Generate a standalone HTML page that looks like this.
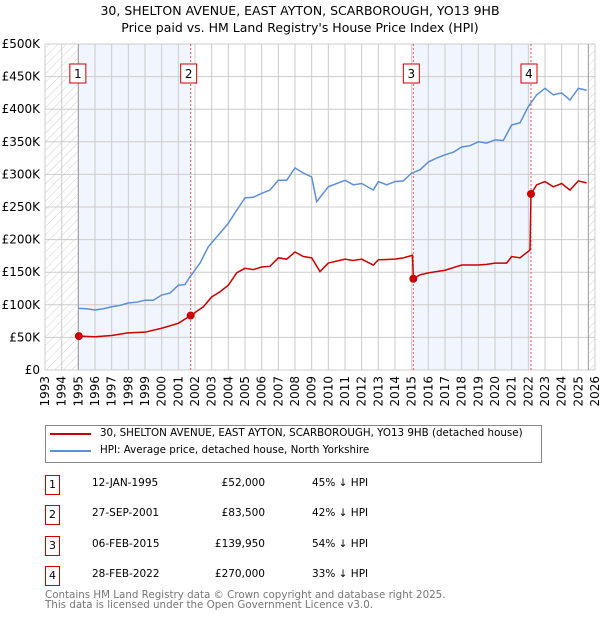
<!DOCTYPE html>
<html><head><meta charset="utf-8"><style>
body{margin:0;background:#fff;font-family:"DejaVu Sans","Liberation Sans",sans-serif;}
#wrap{position:relative;width:600px;height:620px;overflow:hidden;}
.t{position:absolute;white-space:nowrap;color:#000;font-size:12px;}
.box{position:absolute;width:13px;height:18px;border:1px solid #c00;font-size:11px;text-align:center;line-height:18px;}
</style></head><body>
<div id="wrap">
<div class="t" style="left:0;width:600px;text-align:center;top:3px;font-size:12.5px">30, SHELTON AVENUE, EAST AYTON, SCARBOROUGH, YO13 9HB</div>
<div class="t" style="left:0;width:600px;text-align:center;top:20px;font-size:12.5px">Price paid vs. HM Land Registry's House Price Index (HPI)</div>
<svg id="svg" width="600" height="420" style="position:absolute;left:0;top:0">
<defs><pattern id="hatch" width="6" height="6" patternUnits="userSpaceOnUse" patternTransform="rotate(45)"><line x1="0" y1="0" x2="0" y2="6" stroke="#bbb" stroke-width="0.7"/></pattern></defs>
<g id="g"></g></svg>
<div style="position:absolute;left:45px;top:425px;width:495px;height:36px;border:1px solid #888;"></div>
<div style="position:absolute;left:50px;top:433px;width:41px;height:2px;background:#c00"></div>
<div class="t" style="left:100px;top:427px;font-size:10.3px">30, SHELTON AVENUE, EAST AYTON, SCARBOROUGH, YO13 9HB (detached house)</div>
<div style="position:absolute;left:50px;top:450px;width:41px;height:2px;background:#5b8fd6"></div>
<div class="t" style="left:100px;top:444px;font-size:10.3px">HPI: Average price, detached house, North Yorkshire</div>
<div id="rows"></div>
<div class="t" style="left:45px;top:590px;font-size:10.3px;color:#777;line-height:10px">Contains HM Land Registry data © Crown copyright and database right 2025.<br>This data is licensed under the Open Government Licence v3.0.</div>
</div>
<script>
const yTicks=[0,50,100,150,200,250,300,350,400,450,500];
const years=[1993,1994,1995,1996,1997,1998,1999,2000,2001,2002,2003,2004,2005,2006,2007,2008,2009,2010,2011,2012,2013,2014,2015,2016,2017,2018,2019,2020,2021,2022,2023,2024,2025,2026];
const hpiX=[1995.0,1995.5,1996,1996.5,1997,1997.5,1998,1998.5,1999,1999.5,2000,2000.5,2001,2001.4,2001.7,2002.3,2002.8,2003.5,2004,2004.5,2005,2005.5,2006,2006.5,2007,2007.5,2008,2008.5,2009,2009.3,2009.6,2010,2011,2011.5,2012,2012.7,2013,2013.5,2014,2014.5,2015,2015.5,2016,2016.5,2017,2017.5,2018,2018.5,2019,2019.5,2020,2020.5,2021,2021.5,2022,2022.5,2023,2023.5,2024,2024.5,2025,2025.5];
const hpiY=[94.6,94,92,94,97,99,102.8,104,107,107,115,118,130,131,143,164,189,210,225,245,264,265,271,276,291,291,310,302,296,258,268,281,291,284,286,276,289,284,289,290,302,307,319,325,330,334,342,344,350,348,353,352,376,379,404,422,432,422,425,414,432,429];
const ppX=[1995.03,1996,1997,1998,1999,2000,2001,2001.74,2002.5,2003,2003.5,2004,2004.5,2005,2005.5,2006,2006.5,2007,2007.5,2008,2008.5,2009,2009.5,2010,2011,2011.5,2012,2012.7,2013,2014,2014.5,2015.05,2015.1,2015.5,2016,2017,2018,2019,2019.5,2020,2020.7,2021,2021.5,2022.1,2022.16,2022.5,2023,2023.5,2024,2024.5,2025,2025.5];
const ppY=[52,51,53,57,58,64,71.6,83.5,97,112,120,130,149,156,154,158,159,172,170,181,174,172,151,164,170,168,170,161,169,170,172,176,139.95,146,149,153,161,161,162,164,164,174,172,184,270,284,289,281,286,276,290,287];
const saleX=[1995.03,2001.74,2015.1,2022.16];
const saleY=[52,83.5,139.95,270];
const saleLabels=["1","2","3","4"];
const saleDates=["12-JAN-1995","27-SEP-2001","06-FEB-2015","28-FEB-2022"];
const salePrices=["£52,000","£83,500","£139,950","£270,000"];
const saleHpi=["45% ↓ HPI","42% ↓ HPI","54% ↓ HPI","33% ↓ HPI"];
const X0=45,X1=595,Y0=370,Y1=44;
const sx=v=>X0+(v-1993)/33*(X1-X0);
const sy=v=>Y0-v/500*(Y0-Y1);
const g=document.getElementById('g');const NS='http://www.w3.org/2000/svg';
function mk(t,a){const e=document.createElementNS(NS,t);for(const k in a)e.setAttribute(k,a[k]);g.appendChild(e);return e;}
let e;
e=mk('rect',{x:sx(1993),y:Y1,width:sx(1995)-sx(1993),height:Y0-Y1,fill:'url(#hatch)'});

e=mk('rect',{x:sx(2025.6),y:Y1,width:X1-sx(2025.6),height:Y0-Y1,fill:'url(#hatch)'});

[[saleX[0],saleX[1]],[saleX[2],saleX[3]]].forEach(p=>{e=mk('rect',{x:sx(p[0]),y:Y1,width:sx(p[1])-sx(p[0]),height:Y0-Y1,fill:'#eef3fd',opacity:0.8});
});
years.forEach(y=>{e=mk('line',{x1:sx(y),x2:sx(y),y1:Y1,y2:Y0,stroke:'#ccc','stroke-width':1});

e=mk('text',{transform:`translate(${sx(y)+4},${Y0+6}) rotate(-90)`,'text-anchor':'end','font-size':12,'font-family':'DejaVu Sans,sans-serif'});e.textContent=y;
});
yTicks.forEach(v=>{e=mk('line',{x1:X0,x2:X1,y1:sy(v),y2:sy(v),stroke:'#ccc','stroke-width':1});

e=mk('text',{x:40,y:sy(v)+4,'text-anchor':'end','font-size':12,'font-family':'DejaVu Sans,sans-serif'});e.textContent=v==0?'£0':'£'+v+'K';
});
e=mk('line',{x1:sx(1995),x2:sx(1995),y1:Y1,y2:Y0,stroke:'#999'});
e=mk('line',{x1:sx(2025.6),x2:sx(2025.6),y1:Y1,y2:Y0,stroke:'#999'});
saleX.slice(1).forEach(x=>{e=mk('line',{x1:sx(x),x2:sx(x),y1:Y1,y2:Y0,stroke:'#e55','stroke-dasharray':'2,2','stroke-width':1});
});
e=mk('polyline',{points:hpiX.map((x,i)=>sx(x)+','+sy(hpiY[i])).join(' '),fill:'none',stroke:'#5b8fd6','stroke-width':1.5});

e=mk('polyline',{points:ppX.map((x,i)=>sx(x)+','+sy(ppY[i])).join(' '),fill:'none',stroke:'#c00','stroke-width':1.5});

saleX.forEach((x,i)=>{e=mk('circle',{cx:sx(x),cy:sy(saleY[i]),r:4,fill:'#c00'});

e=mk('rect',{x:sx(x)-(i==0?9:10),y:64,width:16,height:19,fill:'#fff',stroke:'#c00'});

e=mk('text',{x:sx(x)-(i==0?1:2),y:78,'text-anchor':'middle','font-size':12,'font-family':'DejaVu Sans,sans-serif'});e.textContent=saleLabels[i];
});
const rows=document.getElementById('rows');
saleLabels.forEach((l,i)=>{const top=476+i*30.3;
let d=document.createElement('div');d.className='box';d.style.left='45px';d.style.top=(top-1)+'px';d.textContent=l;
rows.appendChild(d);
[[saleDates[i],92,'left','sale-row-date'],[salePrices[i],265,'right','sale-row-price'],[saleHpi[i],312,'left','sale-row-hpi']].forEach(c=>{
d=document.createElement('div');d.className='t';d.textContent=c[0];d.style.top=(top+1)+'px';d.style.fontSize='10.5px';
if(c[2]=='left')d.style.left=c[1]+'px';else{d.style.right=(600-c[1])+'px';}
rows.appendChild(d);});});
</script>
</body></html>
